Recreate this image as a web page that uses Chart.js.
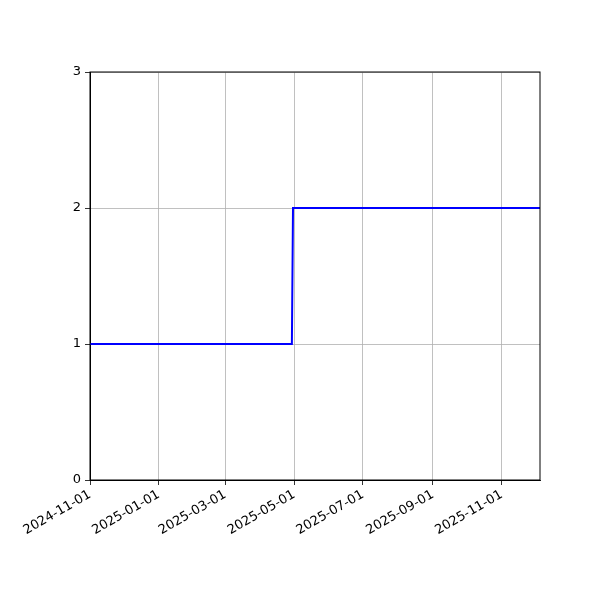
<!DOCTYPE html>
<html>
<head>
<meta charset="utf-8">
<script src="https://cdn.jsdelivr.net/npm/chart.js@4"></script>
<style>
  html, body { margin: 0; padding: 0; background: #fff; }
</style>
</head>
<body>
<canvas id="plot" width="600" height="600"></canvas>
<script>
// data
const dates = ["2024-11-01", "2025-04-29", "2025-04-30", "2025-12-05"];
const values = [1, 1, 2, 2];
const xTickDates = ["2024-11-01", "2025-01-01", "2025-03-01", "2025-05-01", "2025-07-01", "2025-09-01", "2025-11-01"];
const yTicks = [0, 1, 2, 3];

const ms = (s) => Date.parse(s + "T00:00:00Z");
const fmt = (v) => new Date(v).toISOString().slice(0, 10);

// full box round the plot area, like the matplotlib spines
const frame = {
  id: "frame",
  afterDraw(chart) {
    const { ctx, chartArea: a } = chart;
    ctx.save();
    ctx.strokeStyle = "#000";
    ctx.lineWidth = 1;
    ctx.strokeRect(a.left, a.top, a.right - a.left, a.bottom - a.top);
    ctx.restore();
  },
};

new Chart(document.getElementById("plot").getContext("2d"), {
  type: "line",
  data: {
    datasets: [
      {
        data: dates.map((d, i) => ({ x: ms(d), y: values[i] })),
        borderColor: "#0000ff",
        borderWidth: 2,
        pointRadius: 0,
        tension: 0,
      },
    ],
  },
  options: {
    responsive: false,
    animation: false,
    devicePixelRatio: 1,
    layout: { padding: { left: 0, top: 72, right: 60, bottom: 0 } },
    plugins: { legend: { display: false }, tooltip: { enabled: false } },
    scales: {
      x: {
        type: "linear",
        min: ms(dates[0]),
        max: ms(dates[dates.length - 1]),
        afterBuildTicks: (s) => { s.ticks = xTickDates.map((d) => ({ value: ms(d) })); },
        afterFit: (s) => { s.height = 120; },
        grid: { color: "#b0b0b0", lineWidth: 0.8, tickColor: "#000", tickLength: 5 },
        border: { color: "#000", width: 1 },
        ticks: {
          autoSkip: false,
          callback: (v) => fmt(v),
          minRotation: 30,
          maxRotation: 30,
          padding: 2,
          color: "#000",
          font: { family: "DejaVu Sans", size: 13 },
        },
      },
      y: {
        min: 0,
        max: 3,
        afterBuildTicks: (s) => { s.ticks = yTicks.map((v) => ({ value: v })); },
        afterFit: (s) => { s.width = 90; },
        grid: { color: "#b0b0b0", lineWidth: 0.8, tickColor: "#000", tickLength: 5 },
        border: { color: "#000", width: 1 },
        ticks: {
          autoSkip: false,
          padding: 4,
          color: "#000",
          font: { family: "DejaVu Sans", size: 13 },
        },
      },
    },
  },
  plugins: [frame],
});
</script>
</body>
</html>
